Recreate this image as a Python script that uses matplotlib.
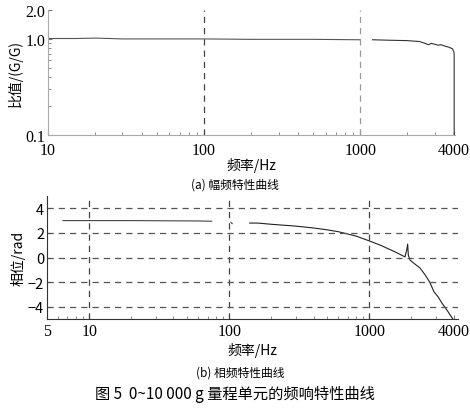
import matplotlib
matplotlib.use("Agg")
import matplotlib.pyplot as plt
import numpy as np

plt.rcParams['font.family'] = ['Noto Sans CJK SC', 'DejaVu Sans']

# Magnitude (ratio) data
mag_f1 = [10, 15, 20, 25, 30, 50, 100, 200, 500, 1000]
mag_v1 = [1.01, 1.01, 1.02, 1.01, 1.0, 1.0, 1.0, 0.99, 0.99, 0.98]
mag_f2 = [1200, 1500, 2000, 2400, 2600, 2750, 2850, 3000, 3150, 3300, 3500, 3700, 3900, 3980, 4000, 4000]
mag_v2 = [0.98, 0.97, 0.96, 0.94, 0.90, 0.87, 0.90, 0.88, 0.86, 0.87, 0.84, 0.82, 0.79, 0.74, 0.70, 0.10]

# Phase data
ph_f1 = [6.5, 10, 20, 40, 60, 75]
ph_v1 = [3.0, 3.0, 3.0, 2.98, 2.97, 2.95]
ph_f2 = [103, 105]
ph_v2 = [2.85, 2.75]
ph_f3 = [140, 160, 200, 300, 400, 500, 600, 800, 1000, 1200, 1500, 1800, 1850, 1880, 1900, 1950, 2100, 2300, 2500, 2700, 2900, 3100, 3300, 3600, 4000]
ph_v3 = [2.8, 2.8, 2.7, 2.55, 2.4, 2.25, 2.1, 1.75, 1.35, 1.0, 0.5, 0.05, 0.6, 1.1, 0.2, -0.2, -0.5, -0.85, -1.4, -2.0, -2.8, -3.2, -3.7, -4.3, -5.1]

xt1 = [10, 100, 1000, 4000]
xt2 = [5, 10, 100, 1000, 4000]
yt1 = [0.1, 1.0, 2.0]
yt2 = [-4, -2, 0, 2, 4]

W, H = 470, 414
fig = plt.figure(figsize=(W/100, H/100), dpi=100)

def ax_rect(l, t, r, b):
    return [l/W, 1 - b/H, (r-l)/W, (b-t)/H]

cjk = ['Noto Sans CJK SC', 'DejaVu Sans']
serif = ['Liberation Serif', 'DejaVu Serif']
tfs = 11.5

# ---- Top: magnitude
ax1 = fig.add_axes(ax_rect(48, 11, 455, 136))
ax1.set_xscale('log'); ax1.set_yscale('log')
ax1.set_xlim(10, 4050); ax1.set_ylim(0.1, 2.0)
ax1.plot(mag_f1, mag_v1, color='#555555', lw=0.8)
ax1.plot(mag_f2, mag_v2, color='#333333', lw=0.8)
for xv, c in [(100, '#444444'), (1000, '#999999')]:
    ax1.axvline(xv, color=c, ls=(0, (5, 4)), lw=0.9)
ax1.set_xticks(xt1); ax1.set_xticklabels([str(v) for v in xt1], family=serif, fontsize=tfs)
ax1.set_yticks(yt1); ax1.set_yticklabels(['0.1', '1.0', '2.0'], family=serif, fontsize=tfs)
ax1.xaxis.set_minor_formatter(matplotlib.ticker.NullFormatter())
ax1.yaxis.set_minor_formatter(matplotlib.ticker.NullFormatter())
ax1.set_ylabel('比值/(G/G)', family=cjk, fontsize=10, labelpad=2)
ax1.set_xlabel('频率/Hz', family=cjk, fontsize=10, labelpad=-1)

# ---- Bottom: phase
ax2 = fig.add_axes(ax_rect(47, 197, 458, 320))
ax2.set_xscale('log')
ax2.set_xlim(5, 4300); ax2.set_ylim(-5, 5)
ax2.plot(ph_f1, ph_v1, color='#444444', lw=0.8)
ax2.plot(ph_f2, ph_v2, color='#444444', lw=0.8)
ax2.plot(ph_f3, ph_v3, color='#222222', lw=0.8)
for xv in [10, 100, 1000]:
    ax2.axvline(xv, color='#444444', ls=(0, (5, 4)), lw=0.9)
for yv in yt2:
    ax2.axhline(yv, color='#555555', ls=(0, (5, 4)), lw=0.9)
ax2.set_xticks(xt2); ax2.set_xticklabels([str(v) for v in xt2], family=serif, fontsize=tfs)
ax2.set_yticks(yt2); ax2.set_yticklabels(['−4', '−2', '0', '2', '4'], family=cjk, fontsize=10.5)
ax2.xaxis.set_minor_formatter(matplotlib.ticker.NullFormatter())
ax2.set_ylabel('相位/rad', family=cjk, fontsize=10, labelpad=2)
ax2.set_xlabel('频率/Hz', family=cjk, fontsize=10, labelpad=2)

for ax, sc in [(ax1, '#aaaaaa'), (ax2, '#333333')]:
    ax.spines['top'].set_visible(False)
    ax.spines['right'].set_visible(False)
    ax.spines['left'].set_color(sc)
    ax.spines['bottom'].set_color(sc)
    ax.tick_params(which='both', direction='in', length=3, color='#777777')
    ax.tick_params(which='minor', length=2)
    ax.tick_params(axis='y', pad=2)
ax1.tick_params(axis='x', pad=5)
ax2.tick_params(axis='x', pad=3)

fig.text(235/W, 1 - 185/H, '(a) 幅频特性曲线', family=cjk, fontsize=8.5, ha='center', va='center')
fig.text(240/W, 1 - 373/H, '(b) 相频特性曲线', family=cjk, fontsize=8.5, ha='center', va='center')
fig.text(235/W, 1 - 395/H, '图 5  0~10 000 g 量程单元的频响特性曲线', family=cjk, fontsize=11, ha='center', va='center')

fig.savefig('out.png', dpi=100)
